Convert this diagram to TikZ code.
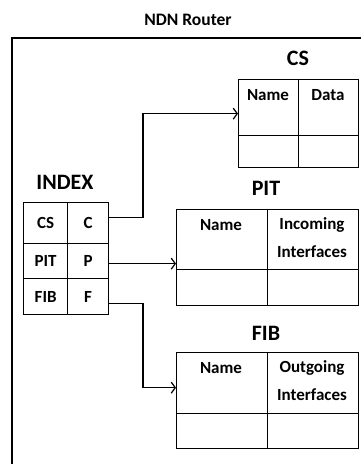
\documentclass[tikz,border=0pt]{standalone}
\usepackage{fontspec}
\setmainfont{Carlito}
\usetikzlibrary{arrows.meta}
\begin{document}
\begin{tikzpicture}[x=1pt,y=-1pt,
  cellbox/.style={draw, line width=1.3pt, inner sep=0pt, anchor=north west},
  tabtext/.style={inner sep=0pt, font=\fontsize{17}{19}\selectfont\bfseries},
  heading/.style={inner sep=0pt, font=\fontsize{22}{24}\selectfont\bfseries},
  link/.style={line width=1.2pt, -{Straight Barb[length=4pt,width=11pt,line width=1.2pt]}},
  wire/.style={line width=1.2pt}]
\useasboundingbox (0,0) rectangle (360,464);

% router frame
\draw[line width=1.4pt] (12,470) -- (12,38) -- (365,38);
\node[inner sep=0pt, font=\fontsize{17.5}{19}\selectfont\bfseries] (title) at (188,20) {NDN Router};

% index table
\node[heading] (idxhead) at (65,182) {INDEX};
\node[cellbox, minimum width=44pt, minimum height=41pt] (idxCS) at (23,202) {};
\node[cellbox, minimum width=41pt, minimum height=41pt] (idxC) at (67,202) {};
\node[cellbox, minimum width=44pt, minimum height=35pt] (idxPIT) at (23,243) {};
\node[cellbox, minimum width=41pt, minimum height=35pt] (idxP) at (67,243) {};
\node[cellbox, minimum width=44pt, minimum height=36pt] (idxFIB) at (23,278) {};
\node[cellbox, minimum width=41pt, minimum height=36pt] (idxF) at (67,278) {};
\node[tabtext] at (idxCS) {CS};
\node[tabtext] at (idxC) {C};
\node[tabtext] at (idxPIT) {PIT};
\node[tabtext] at (idxP) {P};
\node[tabtext] at (idxFIB) {FIB};
\node[tabtext] at (idxF) {F};

% content store
\node[heading] (cshead) at (298,58) {CS};
\node[cellbox, minimum width=60pt, minimum height=56pt] (csName) at (238,79) {};
\node[cellbox, minimum width=60pt, minimum height=56pt] (csData) at (298,79) {};
\node[cellbox, minimum width=60pt, minimum height=32pt] (csRow1) at (238,135) {};
\node[cellbox, minimum width=60pt, minimum height=32pt] (csRow2) at (298,135) {};
\node[tabtext] at (268,95) {Name};
\node[tabtext] at (328,95) {Data};

% pending interest table
\node[heading] (pithead) at (266,188) {PIT};
\node[cellbox, minimum width=91pt, minimum height=60pt] (pitName) at (176,209) {};
\node[cellbox, minimum width=91pt, minimum height=60pt] (pitIn) at (267,209) {};
\node[cellbox, minimum width=91pt, minimum height=36pt] (pitRow1) at (176,269) {};
\node[cellbox, minimum width=91pt, minimum height=36pt] (pitRow2) at (267,269) {};
\node[tabtext] at (221,225) {Name};
\node[tabtext] at (312,225) {Incoming};
\node[tabtext] at (312,252) {Interfaces};

% forwarding information base
\node[heading] (fibhead) at (266,333) {FIB};
\node[cellbox, minimum width=91pt, minimum height=61pt] (fibName) at (176,352) {};
\node[cellbox, minimum width=91pt, minimum height=61pt] (fibOut) at (267,352) {};
\node[cellbox, minimum width=91pt, minimum height=35pt] (fibRow1) at (176,413) {};
\node[cellbox, minimum width=91pt, minimum height=35pt] (fibRow2) at (267,413) {};
\node[tabtext] at (221,368) {Name};
\node[tabtext] at (312,368) {Outgoing};
\node[tabtext] at (312,395) {Interfaces};

% pointers from the index into the tables
\coordinate (cOut) at ([yshift=5.5pt]idxC.east);
\coordinate (csIn) at ([yshift=-6pt]csName.west);
\coordinate (cBend) at (143,0);
\draw[link] (cOut) -- (cOut -| cBend) |- (csIn);

\coordinate (pOut) at ([yshift=-2.5pt]idxP.east);
\draw[link] (pOut) -- (pOut -| pitName.west);

\coordinate (fOut) at ([yshift=-7pt]idxF.east);
\coordinate (fibIn) at ([yshift=-4.5pt]fibName.west);
\draw[link] (fOut) -- (fOut -| cBend) |- (fibIn);
\end{tikzpicture}
\end{document}
